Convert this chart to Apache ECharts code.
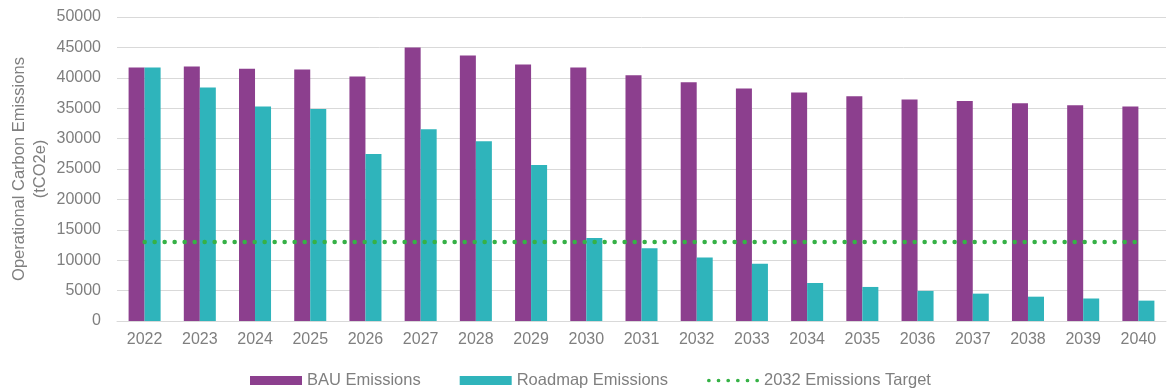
<!DOCTYPE html>
<html>
<head>
<meta charset="utf-8">
<title>Operational Carbon Emissions</title>
<script src="https://cdn.jsdelivr.net/npm/echarts@6/dist/echarts.min.js"></script>
<style>
  html, body { margin: 0; padding: 0; background: #ffffff; }
  #chart { width: 1168px; height: 392px; }
</style>
</head>
<body>
<div id="chart"></div>
<script>
// Years on the category axis
const years = ['2022', '2023', '2024', '2025', '2026', '2027', '2028', '2029', '2030',
  '2031', '2032', '2033', '2034', '2035', '2036', '2037', '2038', '2039', '2040'];

// Business-as-usual emissions (tCO2e)
const bauEmissions = [41700, 41850, 41500, 41350, 40200, 45000, 43650, 42200, 41700,
  40400, 39250, 38250, 37600, 36950, 36450, 36200, 35800, 35500, 35300];

// Emissions following the decarbonisation roadmap (tCO2e)
const roadmapEmissions = [41700, 38400, 35300, 34850, 27450, 31550, 29550, 25650, 13650,
  11950, 10450, 9400, 6250, 5600, 4950, 4500, 4000, 3700, 3350];

// 2032 target level, held flat across all years
const targetLevel = 13000;
const targetLine = years.map(() => targetLevel);

const FONT = "'Liberation Sans', Arial, sans-serif";
const GREY_TEXT = '#7f7f7f';
const GRID_GREY = '#d9d9d9';
const PURPLE = '#8c3f8e';
const TEAL = '#2fb4bb';
const GREEN = '#36b246';

// Legend key for the target: a row of six round dots
const dotKey = (() => {
  const r = 2, step = 10.4;
  let d = '';
  for (let i = 0; i < 6; i++) {
    const cx = r + i * step;
    d += `M${cx - r},${r}a${r},${r} 0 1,0 ${2 * r},0a${r},${r} 0 1,0 ${-2 * r},0z`;
  }
  return 'path://' + d;
})();

const chart = echarts.init(document.getElementById('chart'), null, { renderer: 'canvas' });

chart.setOption({
  animation: false,
  textStyle: { fontFamily: FONT },
  grid: { left: 117, right: 2, top: 17, bottom: 71, containLabel: false, outerBoundsMode: 'none' },
  legend: {
    left: 245,
    top: 367,
    itemWidth: 52,
    itemHeight: 9,
    itemGap: 39,
    symbolKeepAspect: true,
    textStyle: { color: GREY_TEXT, fontSize: 16.5, fontFamily: FONT },
    data: [
      { name: 'BAU Emissions', icon: 'rect' },
      { name: 'Roadmap Emissions', icon: 'rect' },
      { name: '2032 Emissions Target', icon: dotKey }
    ]
  },
  xAxis: {
    type: 'category',
    data: years,
    boundaryGap: true,
    axisLine: { show: true, lineStyle: { color: GRID_GREY, width: 1 } },
    axisTick: { show: false },
    axisLabel: { color: GREY_TEXT, fontSize: 16, fontFamily: FONT, margin: 11 },
    splitLine: { show: false }
  },
  yAxis: {
    type: 'value',
    min: 0,
    max: 50000,
    interval: 5000,
    name: 'Operational Carbon Emissions\n(tCO2e)',
    nameLocation: 'middle',
    nameGap: 66,
    nameMoveOverlap: false,
    nameTextStyle: { color: GREY_TEXT, fontSize: 16.5, fontFamily: FONT, lineHeight: 21, align: 'center' },
    axisLine: { show: false },
    axisTick: { show: false },
    axisLabel: {
      color: GREY_TEXT, fontSize: 16, fontFamily: FONT, margin: 16,
      formatter: (v) => String(v)
    },
    splitLine: { show: true, lineStyle: { color: GRID_GREY, width: 1 } }
  },
  series: [
    {
      name: 'BAU Emissions',
      type: 'bar',
      data: bauEmissions,
      itemStyle: { color: PURPLE },
      barGap: '0%',
      barCategoryGap: '42%'
    },
    {
      name: 'Roadmap Emissions',
      type: 'bar',
      data: roadmapEmissions,
      itemStyle: { color: TEAL },
      barGap: '0%',
      barCategoryGap: '42%'
    },
    {
      name: '2032 Emissions Target',
      type: 'line',
      data: targetLine,
      symbol: 'none',
      z: 5,
      itemStyle: { color: GREEN },
      lineStyle: { color: GREEN, width: 4.5, type: [0.1, 9.9], cap: 'round' }
    }
  ]
});
</script>
</body>
</html>
